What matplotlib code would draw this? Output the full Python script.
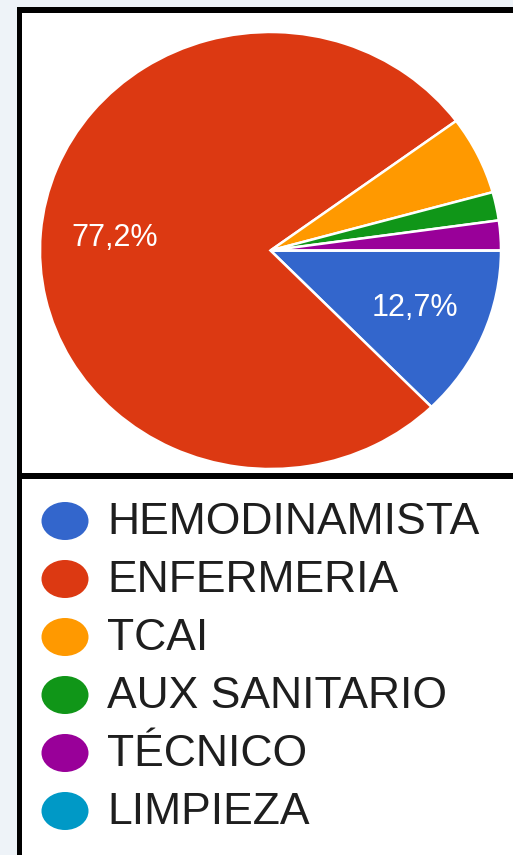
import matplotlib
matplotlib.use("Agg")
import matplotlib.pyplot as plt
from matplotlib.patches import Ellipse, Rectangle

plt.rcParams['font.family'] = ['Liberation Sans', 'DejaVu Sans']

# datos (porcentajes)
categorias = ["HEMODINAMISTA", "ENFERMERIA", "TCAI", "AUX SANITARIO", "TÉCNICO", "LIMPIEZA"]
porcentajes = [12.7, 77.2, 5.8, 2.1, 2.2, 0.0]
colores = ["#3366cc", "#dc3912", "#ff9900", "#109618", "#990099", "#0099c6"]

W, H = 513, 855
fig = plt.figure(figsize=(W / 100, H / 100), dpi=100)
fig.patch.set_facecolor("#eef3f8")


def px_rect(x0, y0, x1, y1, color):
    # rectangulo en pixeles (origen arriba a la izquierda), detras de los ejes
    fig.patches.append(Rectangle((x0 / W, 1 - y1 / H), (x1 - x0) / W, (y1 - y0) / H,
                                 transform=fig.transFigure, facecolor=color,
                                 edgecolor="none", zorder=-5))


# fondo blanco y marco negro
px_rect(17, 7, W, H, "black")
px_rect(22, 13, W, 473, "white")
px_rect(22, 479, W, H, "white")

# tarta (ligeramente estirada en horizontal como en la captura)
ax = fig.add_axes([40 / W, 1 - 469 / H, 461 / W, 437 / H])
ax.set_zorder(2)


def etiqueta(p):
    if p < 10:
        return ""
    return f"{p:.1f}%".replace(".", ",")


wedges, textos, autotextos = ax.pie(
    porcentajes, colors=colores, startangle=0, counterclock=False,
    autopct=etiqueta, pctdistance=0.68,
    wedgeprops=dict(edgecolor="white", linewidth=1.8),
    textprops=dict(color="white", fontsize=22))
ax.set_aspect("auto")
ax.set_xlim(-1, 1)
ax.set_ylim(-1, 1)
ax.axis("off")

# leyenda
lax = fig.add_axes([0, 0, 1, 1])
lax.set_zorder(1)
lax.set_xlim(0, W)
lax.set_ylim(H, 0)
lax.axis("off")
for i, (cat, col) in enumerate(zip(categorias, colores)):
    y = 521 + i * 58
    lax.add_patch(Ellipse((65, y), 47, 38, facecolor=col, edgecolor="none"))
    lax.text(107, y + 1, cat, fontsize=32, color="#1e1e1e", va="center", ha="left")

fig.savefig("out.png", dpi=100, facecolor=fig.get_facecolor())
